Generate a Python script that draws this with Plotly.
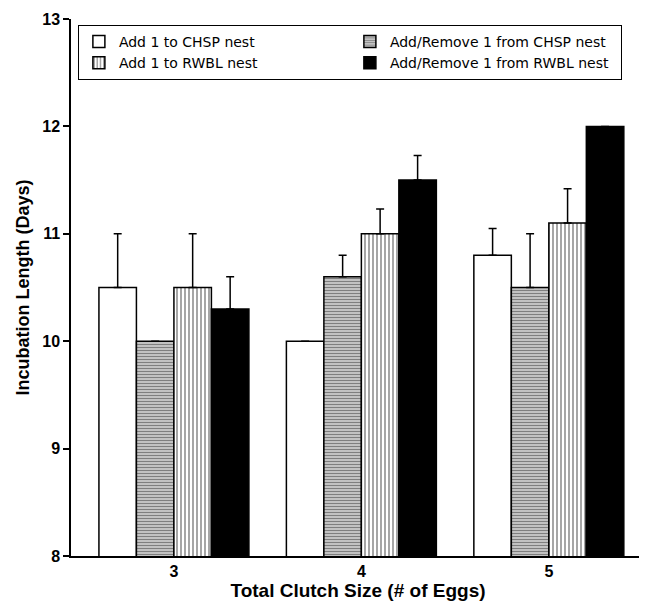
import plotly.graph_objects as go

categories = ["3", "4", "5"]
series_names = [
    "Add 1 to CHSP nest",
    "Add/Remove 1 from CHSP nest",
    "Add 1 to RWBL nest",
    "Add/Remove 1 from RWBL nest",
]
add_chsp = [10.5, 10.0, 10.8]
addrem_chsp = [10.0, 10.6, 10.5]
add_rwbl = [10.5, 11.0, 11.1]
addrem_rwbl = [10.3, 11.5, 12.0]

err_add_chsp = [0.5, None, 0.25]
err_addrem_chsp = [None, 0.2, 0.5]
err_add_rwbl = [0.5, 0.23, 0.32]
err_addrem_rwbl = [0.3, 0.23, None]

values = [add_chsp, addrem_chsp, add_rwbl, addrem_rwbl]
errors = [err_add_chsp, err_addrem_chsp, err_add_rwbl, err_addrem_rwbl]

styles = [
    dict(color="white", pattern=None),
    dict(color="white", pattern=dict(shape="-", fgcolor="black", bgcolor="white", size=3, solidity=0.65)),
    dict(color="white", pattern=dict(shape="|", fgcolor="black", bgcolor="white", size=4, solidity=0.35)),
    dict(color="black", pattern=None),
]

fig = go.Figure()
for name, vals, errs, st in zip(series_names, values, errors, styles):
    marker = dict(color=st["color"], line=dict(color="black", width=1.5))
    if st["pattern"] is not None:
        marker["pattern"] = st["pattern"]
    fig.add_trace(go.Bar(
        x=categories, y=vals, name=name, marker=marker,
        error_y=dict(type="data", array=errs, arrayminus=[0, 0, 0], symmetric=False,
                     color="black", thickness=1.5, width=4),
    ))

fig.update_layout(
    width=639, height=593,
    margin=dict(l=63, r=2, t=11, b=45),
    paper_bgcolor="white", plot_bgcolor="white",
    barmode="group", bargap=0.2, bargroupgap=0,
    font=dict(family="Liberation Sans, Arial, sans-serif", color="black"),
    legend=dict(
        orientation="h", x=0.012, y=0.989, xanchor="left", yanchor="top",
        entrywidth=226, bordercolor="black", borderwidth=1, bgcolor="white",
        font=dict(family="DejaVu Sans", size=14, color="black"),
        itemwidth=30, tracegroupgap=0,
    ),
    xaxis=dict(
        type="category", range=[-0.549, 2.513], automargin=False,
        showline=True, linecolor="black", linewidth=1.5,
        ticks="", showgrid=False, zeroline=False,
        tickfont=dict(size=16, family="Liberation Sans, Arial", weight="bold"),
        title=dict(text="<b>Total Clutch Size (# of Eggs)</b>", font=dict(size=19), standoff=1),
    ),
    yaxis=dict(
        range=[8, 13], dtick=1, showline=True, linecolor="black", linewidth=1.5,
        automargin=False,
        ticks="outside", ticklen=6, tickwidth=1.5, tickcolor="black",
        showgrid=False, zeroline=False,
        tickfont=dict(size=16, family="Liberation Sans, Arial", weight="bold"),
        title=dict(text="<b>Incubation Length (Days)</b>", font=dict(size=18), standoff=8),
    ),
)

fig.write_html("out.html")
